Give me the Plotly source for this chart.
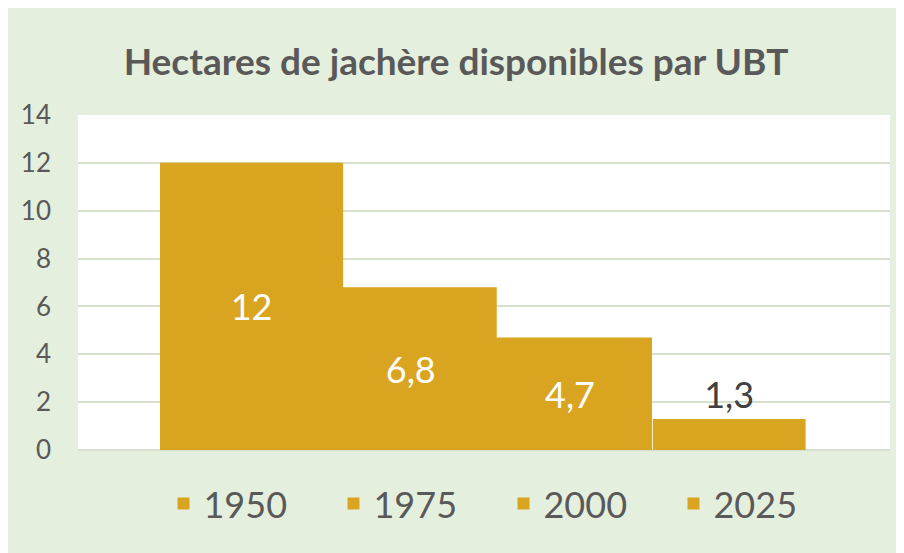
import plotly.graph_objects as go

years = ["1950", "1975", "2000", "2025"]
hectares = [12, 6.8, 4.7, 1.3]
labels = ["12", "6,8", "4,7", "1,3"]

bar_color = "#D9A521"
bar_widths = [1.15, 1.08, 1.03, 0.96]  # bars overlap like steps
label_colors = ["white", "white", "white", "#404040"]
label_pos = ["inside", "inside", "inside", "outside"]

fig = go.Figure()
for i, (yr, val) in enumerate(zip(years, hectares)):
    fig.add_trace(go.Bar(
        x=[yr], y=[val], name=yr,
        width=bar_widths[i],
        marker_color=bar_color,
        marker_line_width=0,
        text=[labels[i]],
        textposition=label_pos[i],
        insidetextanchor="middle",
        textfont=dict(size=36, color=label_colors[i], family="Lato"),
        cliponaxis=False,
    ))

# the page adds an 8px body margin, so the figure is sized to fit the window
fig.update_layout(
    width=896, height=545,
    paper_bgcolor="#E5EFDD",
    plot_bgcolor="white",
    margin=dict(l=70, r=14, t=107, b=103),
    title=dict(text="<b>Hectares de jachère disponibles par UBT</b>",
               x=0.5, xanchor="center", y=0.9, yanchor="middle",
               font=dict(size=37, color="#595959", family="Lato")),
    barmode="overlay",
    showlegend=True,
    legend=dict(orientation="h", x=0.524, xanchor="center", y=-0.16, yanchor="middle",
                font=dict(size=36, color="#595959", family="Lato"),
                entrywidth=125, bgcolor="rgba(0,0,0,0)", traceorder="normal"),
    xaxis=dict(type="category", range=[-1.09, 4.01], showticklabels=False,
               showgrid=False, zeroline=False, fixedrange=True),
    yaxis=dict(range=[0, 14], dtick=2, showgrid=True, gridcolor="#D5E0CE",
               gridwidth=1.5, zeroline=True, zerolinecolor="#D5E0CE", zerolinewidth=1.5,
               tickfont=dict(size=26, color="#595959", family="Lato"),
               ticks="", ticklabelstandoff=26),
    font=dict(family="Lato"),
)

fig.write_html("out.html")
